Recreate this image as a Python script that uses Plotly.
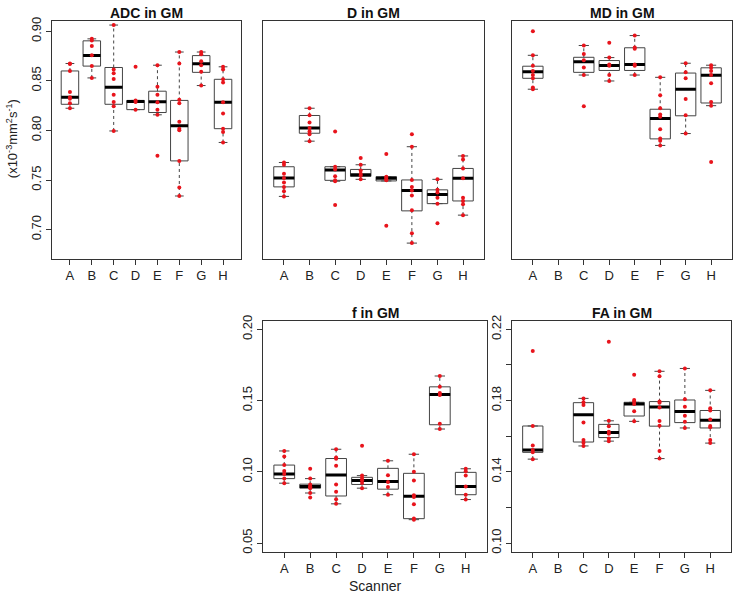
import plotly.graph_objects as go

# scanners on the x axis
scanners = ["A", "B", "C", "D", "E", "F", "G", "H"]

# ADC in GM: box stats (lower whisker, q1, median, q3, upper whisker) and points
adc_lo = [0.8224, 0.8530, 0.7995, 0.8210, 0.8158, 0.7339, 0.8453, 0.7879]
adc_q1 = [0.8264, 0.8649, 0.8264, 0.8210, 0.8181, 0.7693, 0.8586, 0.8018]
adc_med = [0.8334, 0.8755, 0.8436, 0.8293, 0.8290, 0.8048, 0.8672, 0.8284]
adc_q3 = [0.8600, 0.8904, 0.8635, 0.8303, 0.8396, 0.8303, 0.8755, 0.8516]
adc_hi = [0.8675, 0.8924, 0.9063, 0.8303, 0.8658, 0.8791, 0.8791, 0.8642]
adc_pts = [
    [0.8675, 0.8670, 0.8600, 0.8387, 0.8334, 0.8320, 0.8274, 0.8224],
    [0.8924, 0.8907, 0.8851, 0.8758, 0.8649, 0.8530],
    [0.9063, 0.8616, 0.8576, 0.8520, 0.8360, 0.8287, 0.8244, 0.7995],
    [0.8642, 0.8303, 0.8287, 0.8210],
    [0.8658, 0.8440, 0.8360, 0.8284, 0.8210, 0.8158, 0.7746],
    [0.8791, 0.8675, 0.8309, 0.8274, 0.8088, 0.8018, 0.8002, 0.7693, 0.7425, 0.7339],
    [0.8791, 0.8768, 0.8698, 0.8658, 0.8592, 0.8453],
    [0.8642, 0.8616, 0.8516, 0.8483, 0.8284, 0.8171, 0.8018, 0.7985, 0.7879],
]

# D in GM
d_lo = [0.7335, 0.7892, 0.7488, 0.7507, 0.7491, 0.6864, 0.7262, 0.7146]
d_q1 = [0.7431, 0.7972, 0.7497, 0.7537, 0.7491, 0.7189, 0.7262, 0.7289]
d_med = [0.7521, 0.8025, 0.7600, 0.7554, 0.7518, 0.7395, 0.7355, 0.7518]
d_q3 = [0.7634, 0.8151, 0.7634, 0.7607, 0.7534, 0.7501, 0.7401, 0.7617]
d_hi = [0.7677, 0.8224, 0.7634, 0.7654, 0.7534, 0.7836, 0.7507, 0.7743]
d_pts = [
    [0.7677, 0.7654, 0.7564, 0.7521, 0.7475, 0.7431, 0.7388, 0.7335],
    [0.8224, 0.8154, 0.8081, 0.8025, 0.7989, 0.7962, 0.7892],
    [0.7989, 0.7634, 0.7607, 0.7538, 0.7497, 0.7488, 0.7249],
    [0.7723, 0.7654, 0.7597, 0.7564, 0.7547, 0.7507],
    [0.7763, 0.7534, 0.7524, 0.7507, 0.7497, 0.7040],
    [0.7962, 0.7836, 0.7501, 0.7431, 0.7395, 0.7345, 0.7196, 0.6964, 0.6864],
    [0.7507, 0.7401, 0.7375, 0.7322, 0.7262, 0.7063],
    [0.7743, 0.7706, 0.7617, 0.7518, 0.7322, 0.7289, 0.7256, 0.7146],
]

# MD in GM (no data for scanner B)
md_lo = [0.8416, None, 0.8559, 0.8499, 0.8559, 0.7849, 0.7969, 0.8250]
md_q1 = [0.8526, None, 0.8586, 0.8605, 0.8605, 0.7915, 0.8148, 0.8277]
md_med = [0.8592, None, 0.8692, 0.8655, 0.8665, 0.8121, 0.8416, 0.8556]
md_q3 = [0.8648, None, 0.8738, 0.8705, 0.8834, 0.8214, 0.8579, 0.8632]
md_hi = [0.8758, None, 0.8857, 0.8735, 0.8957, 0.8536, 0.8678, 0.8658]
md_pts = [
    [0.9000, 0.8758, 0.8652, 0.8599, 0.8559, 0.8526, 0.8433, 0.8416],
    [],
    [0.8857, 0.8772, 0.8709, 0.8635, 0.8559, 0.8244],
    [0.8884, 0.8735, 0.8665, 0.8652, 0.8559, 0.8499],
    [0.8957, 0.8837, 0.8824, 0.8665, 0.8652, 0.8559],
    [0.8536, 0.8354, 0.8224, 0.8161, 0.8138, 0.8012, 0.7918, 0.7895, 0.7849],
    [0.8678, 0.8586, 0.8526, 0.8317, 0.8154, 0.7969],
    [0.8658, 0.8632, 0.8599, 0.8559, 0.8476, 0.8287, 0.8250, 0.7683],
]

# f in GM
f_lo = [0.0920, 0.0851, 0.0775, 0.0885, 0.0839, 0.0664, 0.1300, 0.0805]
f_q1 = [0.0952, 0.0885, 0.0830, 0.0911, 0.0878, 0.0671, 0.1330, 0.0839]
f_med = [0.0985, 0.0897, 0.0978, 0.0938, 0.0931, 0.0828, 0.1543, 0.0897]
f_q3 = [0.1047, 0.0913, 0.1093, 0.0961, 0.1024, 0.0989, 0.1596, 0.0996]
f_hi = [0.1146, 0.0952, 0.1158, 0.0973, 0.1077, 0.1123, 0.1672, 0.1021]
f_pts = [
    [0.1146, 0.1107, 0.1047, 0.1005, 0.0985, 0.0952, 0.0920],
    [0.1021, 0.0952, 0.0911, 0.0897, 0.0890, 0.0885, 0.0851, 0.0820],
    [0.1158, 0.1100, 0.1091, 0.1042, 0.0911, 0.0860, 0.0807, 0.0775],
    [0.1183, 0.0973, 0.0957, 0.0941, 0.0922, 0.0885],
    [0.1077, 0.0975, 0.0929, 0.0894, 0.0839],
    [0.1123, 0.1001, 0.0938, 0.0835, 0.0823, 0.0772, 0.0672, 0.0664],
    [0.1672, 0.1596, 0.1552, 0.1538, 0.1337, 0.1300],
    [0.1021, 0.1003, 0.0973, 0.0897, 0.0839, 0.0805],
]

# FA in GM (no data for scanner B)
fa_lo = [0.1471, None, 0.1545, 0.1572, 0.1683, 0.1474, 0.1646, 0.1561]
fa_q1 = [0.1509, None, 0.1567, 0.1592, 0.1713, 0.1656, 0.1676, 0.1646]
fa_med = [0.1522, None, 0.1720, 0.1620, 0.1781, 0.1763, 0.1738, 0.1689]
fa_q3 = [0.1657, None, 0.1788, 0.1666, 0.1790, 0.1794, 0.1803, 0.1744]
fa_hi = [0.1657, None, 0.1812, 0.1686, 0.1790, 0.1964, 0.1980, 0.1857]
fa_pts = [
    [0.2078, 0.1657, 0.1548, 0.1522, 0.1509, 0.1471],
    [],
    [0.1812, 0.1790, 0.1775, 0.1676, 0.1578, 0.1563, 0.1545],
    [0.2130, 0.1686, 0.1655, 0.1624, 0.1613, 0.1587, 0.1572],
    [0.1945, 0.1803, 0.1794, 0.1781, 0.1740, 0.1683],
    [0.1964, 0.1936, 0.1794, 0.1787, 0.1761, 0.1685, 0.1658, 0.1517, 0.1474],
    [0.1980, 0.1807, 0.1765, 0.1714, 0.1681, 0.1646],
    [0.1857, 0.1757, 0.1744, 0.1694, 0.1657, 0.1650, 0.1578, 0.1561],
]

# tick labels
adc_ticks = [0.70, 0.75, 0.80, 0.85, 0.90]
f_ticks = [0.05, 0.10, 0.15, 0.20]
fa_ticks = [0.10, 0.12, 0.14, 0.16, 0.18, 0.20, 0.22]
fa_ticktext = ["0.10", "", "0.14", "", "0.18", "", "0.22"]

W, H = 734, 596
BOXCOL = "#444444"
RED = "#e8141c"
FONT = "Liberation Sans, Arial, sans-serif"

panels = [
    ("ADC in GM", adc_lo, adc_q1, adc_med, adc_q3, adc_hi, adc_pts),
    ("D in GM", d_lo, d_q1, d_med, d_q3, d_hi, d_pts),
    ("MD in GM", md_lo, md_q1, md_med, md_q3, md_hi, md_pts),
    ("f in GM", f_lo, f_q1, f_med, f_q3, f_hi, f_pts),
    ("FA in GM", fa_lo, fa_q1, fa_med, fa_q3, fa_hi, fa_pts),
]

# plot areas in pixels: left, right, top, bottom
areas = [(52, 241, 15, 256), (263, 484, 15, 256), (512, 732, 15, 256),
         (263, 487, 319, 553), (512, 731, 319, 553)]


def fx(px):
    return px / W


def fy(py):
    return 1 - py / H


fig = go.Figure()

for i, (title, lo, q1, med, q3, hi, pts) in enumerate(panels):
    xa = "x" if i == 0 else "x%d" % (i + 1)
    ya = "y" if i == 0 else "y%d" % (i + 1)
    keep = [k for k in range(len(scanners)) if med[k] is not None]
    pos = [k + 1 for k in keep]

    # boxes (whiskers drawn separately so they can be dashed)
    fig.add_trace(go.Box(
        x=pos, q1=[q1[k] for k in keep], median=[med[k] for k in keep],
        q3=[q3[k] for k in keep], lowerfence=[q1[k] for k in keep],
        upperfence=[q3[k] for k in keep], width=0.8, whiskerwidth=0,
        fillcolor="white", line=dict(color=BOXCOL, width=1),
        boxpoints=False, hoverinfo="skip", xaxis=xa, yaxis=ya))

    wx, wy, sx, sy, mx, my = [], [], [], [], [], []
    for k in keep:
        p = k + 1
        wx += [p, p, None, p, p, None]
        wy += [q3[k], hi[k], None, lo[k], q1[k], None]
        sx += [p - 0.2, p + 0.2, None, p - 0.2, p + 0.2, None]
        sy += [hi[k], hi[k], None, lo[k], lo[k], None]
        mx += [p - 0.4, p + 0.4, None]
        my += [med[k], med[k], None]

    fig.add_trace(go.Scatter(x=wx, y=wy, mode="lines", xaxis=xa, yaxis=ya,
                             line=dict(color=BOXCOL, width=1, dash="3px,3px"),
                             hoverinfo="skip"))
    fig.add_trace(go.Scatter(x=sx, y=sy, mode="lines", xaxis=xa, yaxis=ya,
                             line=dict(color=BOXCOL, width=1), hoverinfo="skip"))
    fig.add_trace(go.Scatter(x=mx, y=my, mode="lines", xaxis=xa, yaxis=ya,
                             line=dict(color="black", width=3), hoverinfo="skip"))

    px, py = [], []
    for k in range(len(scanners)):
        px += [k + 1] * len(pts[k])
        py += pts[k]
    fig.add_trace(go.Scatter(x=px, y=py, mode="markers", xaxis=xa, yaxis=ya,
                             marker=dict(color=RED, size=4, line=dict(width=0))))

layout = dict(
    width=W, height=H, margin=dict(l=0, r=0, t=0, b=0),
    paper_bgcolor="white", plot_bgcolor="white", showlegend=False,
    font=dict(family=FONT, size=13, color="#222222"),
)

for i, (l, r, t, b) in enumerate(areas):
    sfx = "" if i == 0 else str(i + 1)
    xkey, ykey = "xaxis" + sfx, "yaxis" + sfx
    layout[xkey] = dict(
        domain=[fx(l), fx(r)], range=[0.18, 8.82], anchor="y" + sfx,
        tickvals=list(range(1, 9)), ticktext=scanners, ticks="outside",
        ticklen=5, tickcolor="#333333", showline=True, mirror=True,
        linecolor="#333333", linewidth=1, showgrid=False, zeroline=False,
        tickfont=dict(size=13, color="#222222"))
    ydict = dict(
        domain=[fy(b), fy(t)], anchor="x" + sfx, showline=True,
        mirror=True, linecolor="#333333", linewidth=1, showgrid=False,
        zeroline=False, tickangle=-90, tickfont=dict(size=13, color="#222222"))
    if i in (0, 1, 2):
        ydict["range"] = [0.6708, 0.9106]
    if i == 0:
        ydict.update(tickvals=adc_ticks, ticktext=["%.2f" % v for v in adc_ticks],
                     ticks="outside", ticklen=5, tickcolor="#333333")
    elif i in (1, 2):
        ydict.update(showticklabels=False, ticks="")
    elif i == 3:
        ydict.update(range=[0.044, 0.206], tickvals=f_ticks,
                     ticktext=["%.2f" % v for v in f_ticks],
                     ticks="outside", ticklen=5, tickcolor="#333333")
    else:
        ydict.update(range=[0.0952, 0.2248], tickvals=fa_ticks, ticktext=fa_ticktext,
                     ticks="outside", ticklen=5, tickcolor="#333333")
    layout[ykey] = ydict

annotations = []
for i, (l, r, t, b) in enumerate(areas):
    annotations.append(dict(
        text="<b>%s</b>" % panels[i][0], x=fx((l + r) / 2), y=fy(t - 8),
        xref="paper", yref="paper", showarrow=False, xanchor="center",
        yanchor="middle", font=dict(size=14, color="#111111")))
annotations.append(dict(
    text="(x10<sup>-3</sup>mm<sup>2</sup>s<sup>-1</sup>)", x=fx(12), y=fy(135),
    xref="paper", yref="paper", showarrow=False, textangle=-90,
    xanchor="center", yanchor="middle", font=dict(size=13, color="#222222")))
annotations.append(dict(
    text="Scanner", x=fx(375), y=fy(588), xref="paper", yref="paper",
    showarrow=False, xanchor="center", yanchor="middle",
    font=dict(size=14, color="#222222")))
layout["annotations"] = annotations

fig.update_layout(**layout)
# drop the default 8px body margin so the figure fills the window
fig.write_html("out.html", config={"displayModeBar": False},
               post_script="document.body.style.margin = '0';")
